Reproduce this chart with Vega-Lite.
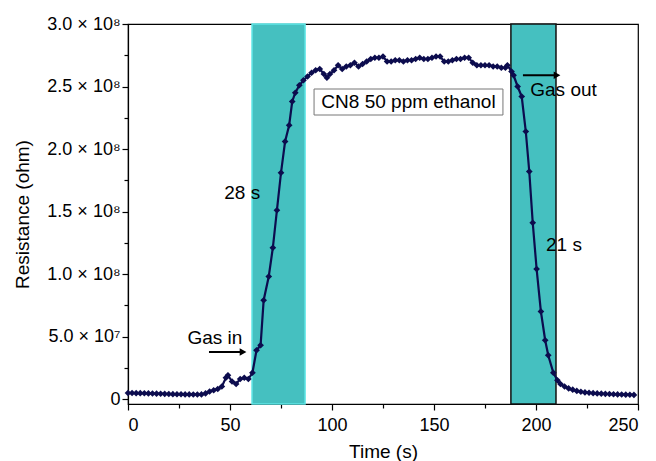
{
  "$schema": "https://vega.github.io/schema/vega-lite/v6.json",
  "width": 510,
  "height": 380,
  "autosize": "none",
  "padding": {"left": 128, "top": 24, "right": 18, "bottom": 57},
  "background": "white",
  "config": {
    "view": {"stroke": "black", "strokeWidth": 1.2},
    "axis": {"grid": false, "domainColor": "black", "tickColor": "black", "labelColor": "black", "titleColor": "black", "labelFont": "Liberation Sans", "titleFont": "Liberation Sans", "titleFontWeight": "normal", "domainWidth": 1.2, "tickWidth": 1.2},
    "text": {"font": "Liberation Sans"}
  },
  "datasets": {
    "curve": [
      {"t": 0, "r": 4.8e6}, {"t": 2, "r": 4.8e6}, {"t": 4, "r": 4.7e6}, {"t": 6, "r": 4.7e6}, {"t": 8, "r": 4.6e6},
      {"t": 10, "r": 4.5e6}, {"t": 12, "r": 4.4e6}, {"t": 14, "r": 4.3e6}, {"t": 16, "r": 4.2e6}, {"t": 18, "r": 4.1e6},
      {"t": 20, "r": 4.0e6}, {"t": 22, "r": 3.9e6}, {"t": 24, "r": 3.8e6}, {"t": 26, "r": 3.8e6}, {"t": 28, "r": 3.7e6},
      {"t": 30, "r": 3.7e6}, {"t": 32, "r": 3.6e6}, {"t": 34, "r": 3.6e6}, {"t": 36, "r": 3.7e6}, {"t": 38, "r": 4.5e6},
      {"t": 40, "r": 6.0e6}, {"t": 42, "r": 7.0e6}, {"t": 44, "r": 8.0e6}, {"t": 46, "r": 1.0e7}, {"t": 48, "r": 1.7e7},
      {"t": 49, "r": 1.9e7}, {"t": 51, "r": 1.4e7}, {"t": 53, "r": 1.2e7}, {"t": 55, "r": 1.6e7}, {"t": 57, "r": 1.7e7},
      {"t": 59, "r": 1.6e7}, {"t": 61, "r": 2.1e7}, {"t": 63, "r": 3.9e7}, {"t": 65, "r": 4.3e7}, {"t": 66.5, "r": 7.9e7},
      {"t": 69, "r": 9.8e7}, {"t": 71, "r": 1.21e8}, {"t": 73, "r": 1.51e8}, {"t": 75, "r": 1.81e8}, {"t": 77, "r": 2.06e8},
      {"t": 79, "r": 2.19e8}, {"t": 80.5, "r": 2.38e8}, {"t": 82, "r": 2.45e8}, {"t": 84, "r": 2.51e8}, {"t": 86, "r": 2.55e8},
      {"t": 88, "r": 2.58e8}, {"t": 90, "r": 2.61e8}, {"t": 92, "r": 2.63e8}, {"t": 94, "r": 2.64e8}, {"t": 96, "r": 2.6e8},
      {"t": 97.5, "r": 2.57e8}, {"t": 99, "r": 2.6e8}, {"t": 101, "r": 2.63e8}, {"t": 103, "r": 2.67e8}, {"t": 105, "r": 2.64e8},
      {"t": 107, "r": 2.66e8}, {"t": 109, "r": 2.67e8}, {"t": 111, "r": 2.69e8}, {"t": 113, "r": 2.66e8}, {"t": 115, "r": 2.68e8},
      {"t": 117, "r": 2.7e8}, {"t": 119, "r": 2.72e8}, {"t": 121, "r": 2.73e8}, {"t": 123, "r": 2.73e8}, {"t": 125, "r": 2.74e8},
      {"t": 127, "r": 2.7e8}, {"t": 129, "r": 2.7e8}, {"t": 131, "r": 2.71e8}, {"t": 133, "r": 2.71e8}, {"t": 135, "r": 2.7e8},
      {"t": 137, "r": 2.71e8}, {"t": 139, "r": 2.71e8}, {"t": 141, "r": 2.72e8}, {"t": 143, "r": 2.73e8}, {"t": 145, "r": 2.72e8},
      {"t": 147, "r": 2.72e8}, {"t": 149, "r": 2.73e8}, {"t": 151, "r": 2.74e8}, {"t": 153, "r": 2.74e8}, {"t": 155, "r": 2.7e8},
      {"t": 157, "r": 2.7e8}, {"t": 159, "r": 2.71e8}, {"t": 161, "r": 2.72e8}, {"t": 163, "r": 2.72e8}, {"t": 165, "r": 2.73e8},
      {"t": 167, "r": 2.73e8}, {"t": 169, "r": 2.69e8}, {"t": 171, "r": 2.67e8}, {"t": 173, "r": 2.67e8}, {"t": 175, "r": 2.67e8},
      {"t": 177, "r": 2.67e8}, {"t": 179, "r": 2.66e8}, {"t": 181, "r": 2.66e8}, {"t": 183, "r": 2.65e8}, {"t": 185, "r": 2.65e8},
      {"t": 186, "r": 2.67e8}, {"t": 188, "r": 2.62e8}, {"t": 189, "r": 2.59e8}, {"t": 191, "r": 2.5e8}, {"t": 193, "r": 2.42e8},
      {"t": 195, "r": 2.14e8}, {"t": 196.7, "r": 1.82e8}, {"t": 198.4, "r": 1.41e8}, {"t": 200.3, "r": 1.04e8}, {"t": 202.4, "r": 7.0e7},
      {"t": 204.5, "r": 4.7e7}, {"t": 206, "r": 3.5e7}, {"t": 208.5, "r": 2.1e7}, {"t": 210.5, "r": 1.5e7}, {"t": 212, "r": 1.2e7},
      {"t": 214, "r": 1.0e7}, {"t": 216, "r": 8.5e6}, {"t": 218, "r": 7.5e6}, {"t": 220, "r": 6.5e6}, {"t": 222, "r": 5.8e6},
      {"t": 224, "r": 5.3e6}, {"t": 226, "r": 5.0e6}, {"t": 228, "r": 4.7e6}, {"t": 230, "r": 4.5e6}, {"t": 232, "r": 4.3e6},
      {"t": 234, "r": 4.1e6}, {"t": 236, "r": 4.0e6}, {"t": 238, "r": 3.8e6}, {"t": 240, "r": 3.7e6}, {"t": 242, "r": 3.6e6},
      {"t": 244, "r": 3.5e6}, {"t": 246, "r": 3.4e6}, {"t": 248, "r": 3.3e6}
    ],
    "bands": [
      {"band": "response", "start": 60.8, "end": 86.8},
      {"band": "recovery", "start": 187.7, "end": 209.8}
    ],
    "box": [
      {"x1": 91.2, "x2": 183.8, "y1": 2.272e8, "y2": 2.48e8}
    ],
    "arrows": [
      {"name": "in", "x1": 39.7, "x2": 56.4, "y": 3.76e7},
      {"name": "out", "x1": 193.6, "x2": 210.3, "y": 2.59e8}
    ],
    "notes": [
      {"label": "Gas in", "t": 42.6, "r": 4.9e7},
      {"label": "Gas out", "t": 213.5, "r": 2.47e8},
      {"label": "28 s", "t": 56, "r": 1.65e8},
      {"label": "21 s", "t": 213.7, "r": 1.23e8},
      {"label": "CN8 50 ppm ethanol", "t": 137.5, "r": 2.376e8}
    ]
  },
  "resolve": {"axis": {"x": "independent", "y": "independent"}},
  "layer": [
    {
      "data": {"name": "bands"},
      "mark": {"type": "rect", "fill": "#45c0c0", "strokeWidth": 1.5},
      "encoding": {
        "x": {"field": "start", "type": "quantitative", "scale": {"domain": [0, 250], "nice": false}, "axis": null},
        "x2": {"field": "end"},
        "stroke": {"field": "band", "type": "nominal", "scale": {"domain": ["response", "recovery"], "range": ["#5fe6e6", "#111111"]}, "legend": null}
      }
    },
    {
      "data": {"name": "box"},
      "mark": {"type": "rect", "fill": "white", "stroke": "#777777", "strokeWidth": 1},
      "encoding": {
        "x": {"field": "x1", "type": "quantitative", "scale": {"domain": [0, 250], "nice": false}, "axis": {"orient": "bottom", "values": [25, 75, 125, 175, 225], "labels": false, "title": null, "domain": false, "tickSize": 4}},
        "x2": {"field": "x2"},
        "y": {"field": "y1", "type": "quantitative", "scale": {"domain": [-4e6, 3e8], "nice": false, "zero": false}, "axis": {"orient": "left", "values": [2.5e7, 7.5e7, 1.25e8, 1.75e8, 2.25e8, 2.75e8], "labels": false, "title": null, "domain": false, "tickSize": 4}},
        "y2": {"field": "y2"}
      }
    },
    {
      "data": {"name": "curve"},
      "mark": {"type": "line", "color": "#0c0c4e", "strokeWidth": 2.2, "point": {"shape": "diamond", "filled": true, "size": 45, "color": "#0c0c4e"}},
      "encoding": {
        "x": {"field": "t", "type": "quantitative", "title": "Time (s)", "scale": {"domain": [0, 250], "nice": false},
          "axis": {"orient": "bottom", "values": [0, 50, 100, 150, 200, 250], "format": "d", "tickSize": 6, "labelFontSize": 18, "titleFontSize": 19, "labelPadding": 6, "titlePadding": 8}},
        "y": {"field": "r", "type": "quantitative", "title": "Resistance (ohm)", "scale": {"domain": [-4e6, 3e8], "nice": false, "zero": false},
          "axis": {"orient": "left", "values": [0, 5e7, 1e8, 1.5e8, 2e8, 2.5e8, 3e8], "tickSize": 6, "labelFontSize": 18, "titleFontSize": 19, "labelPadding": 2, "titlePadding": 14,
            "labelExpr": "datum.value == 0 ? '0' : (datum.value == 5e7 ? '5.0 × 10⁷' : format(datum.value / 1e8, '.1f') + ' × 10⁸')"}}
      }
    },
    {
      "data": {"name": "arrows"},
      "mark": {"type": "rule", "color": "black", "strokeWidth": 2},
      "encoding": {
        "x": {"field": "x1", "type": "quantitative", "axis": null},
        "x2": {"field": "x2"},
        "y": {"field": "y", "type": "quantitative", "axis": null}
      }
    },
    {
      "data": {"name": "arrows"},
      "mark": {"type": "point", "shape": "triangle-right", "filled": true, "color": "black", "size": 60, "opacity": 1},
      "encoding": {
        "x": {"field": "x2", "type": "quantitative", "axis": null},
        "y": {"field": "y", "type": "quantitative", "axis": null}
      }
    },
    {
      "data": {"name": "notes"},
      "mark": {"type": "text", "fontSize": 19, "color": "black", "align": "center", "baseline": "middle"},
      "encoding": {
        "x": {"field": "t", "type": "quantitative", "axis": null},
        "y": {"field": "r", "type": "quantitative", "axis": null},
        "text": {"field": "label"}
      }
    }
  ]
}
